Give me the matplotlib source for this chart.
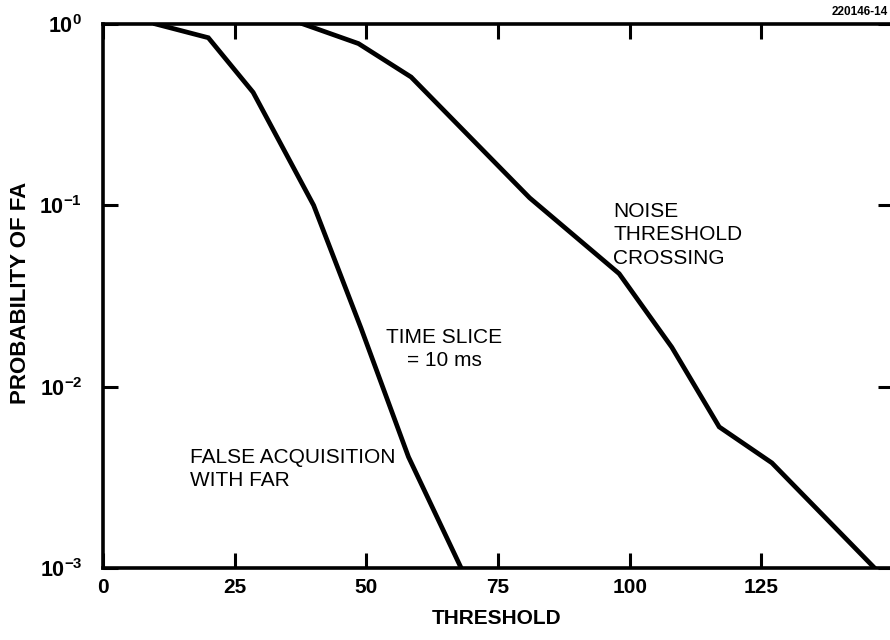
import numpy as np
import matplotlib
matplotlib.use("Agg")
import matplotlib.pyplot as plt
from matplotlib.ticker import NullLocator

plt.rcParams['font.family'] = ['Liberation Sans', 'DejaVu Sans']
plt.rcParams['mathtext.fontset'] = 'custom'
plt.rcParams['mathtext.rm'] = 'Liberation Sans'
plt.rcParams['mathtext.bf'] = 'Liberation Sans:bold'

# threshold vs. probability of false acquisition
far_threshold = [10, 20, 28.5, 40, 49, 58, 68]
far_prob = [1.0, 0.84, 0.42, 0.10, 0.021, 0.0041, 0.001]

noise_threshold = [38, 48.5, 58.5, 81, 98, 108, 117, 127, 146.5]
noise_prob = [1.0, 0.78, 0.51, 0.11, 0.042, 0.0165, 0.006, 0.0038, 0.001]

x_ticks = [0, 25, 50, 75, 100, 125]
y_ticks = [1e-3, 1e-2, 1e-1, 1e0]
y_tick_labels = [r'$\mathbf{10^{-3}}$', r'$\mathbf{10^{-2}}$',
                 r'$\mathbf{10^{-1}}$', r'$\mathbf{10^{0}}$']

W, H = 890, 640
fig = plt.figure(figsize=(W / 100, H / 100), dpi=100)
# right spine sits just past the edge of the sheet
ax = fig.add_axes([103 / W, 1 - 568 / H, (893 - 103) / W, (568 - 24) / H])

ax.plot(far_threshold, far_prob, color='black', lw=3.4, solid_joinstyle='miter')
ax.plot(noise_threshold, noise_prob, color='black', lw=3.4, solid_joinstyle='miter')

ax.set_yscale('log')
ax.set_xlim(0, 150)
ax.set_ylim(1e-3, 1e0)
ax.set_xticks(x_ticks)
ax.set_xticklabels([str(t) for t in x_ticks])
ax.set_yticks(y_ticks)
ax.set_yticklabels(y_tick_labels)
ax.yaxis.set_minor_locator(NullLocator())
ax.xaxis.set_minor_locator(NullLocator())

ax.tick_params(axis='both', direction='in', length=11, width=2.2,
               top=True, right=True)
ax.tick_params(axis='x', pad=7, labelsize=15)
ax.tick_params(axis='y', pad=15, labelsize=15.5)
for lab in ax.get_xticklabels():
    lab.set_fontweight('bold')
for s in ax.spines.values():
    s.set_linewidth(2.6)

fig.text(497 / W, 1 - 618 / H, 'THRESHOLD', ha='center', va='center',
         fontsize=15, fontweight='bold')
fig.text(21 / W, 1 - 293 / H, 'PROBABILITY OF FA', ha='center', va='center',
         rotation=90, fontsize=16, fontweight='bold')

fig.text(613 / W, 1 - 202 / H, 'NOISE\nTHRESHOLD\nCROSSING', ha='left', va='top',
         fontsize=15, linespacing=1.3)
fig.text(444 / W, 1 - 328 / H, 'TIME SLICE\n= 10 ms', ha='center', va='top',
         fontsize=15, linespacing=1.3, multialignment='center')
fig.text(190 / W, 1 - 448 / H, 'FALSE ACQUISITION\nWITH FAR', ha='left', va='top',
         fontsize=15, linespacing=1.3)
fig.text(832 / W, 1 - 12 / H, '220146-14', ha='left', va='center',
         fontsize=8.5, fontweight='bold')

fig.savefig('out.png', dpi=100)
